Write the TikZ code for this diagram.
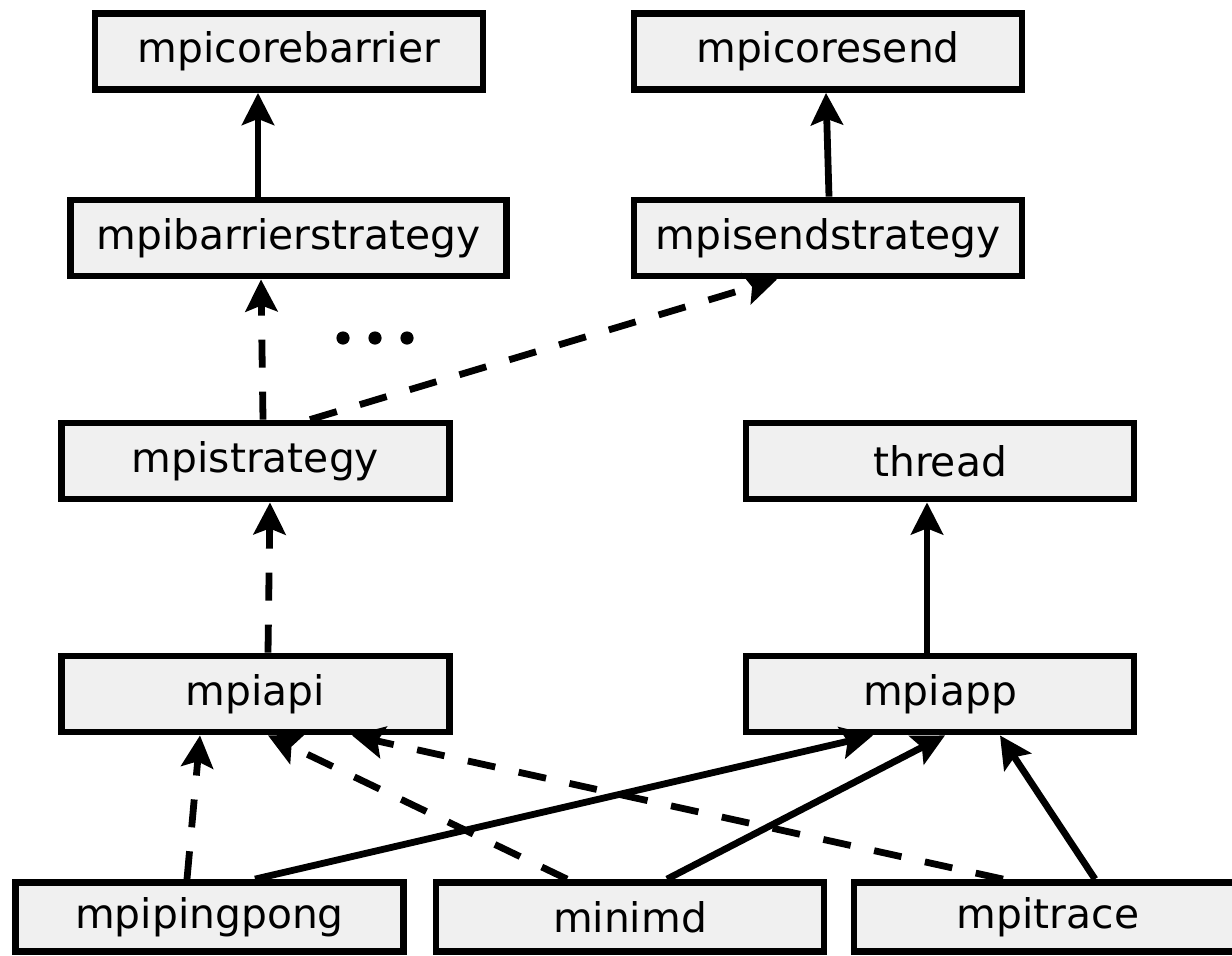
\documentclass[tikz,border=0pt]{standalone}
\usepackage{fontspec}
\setmainfont{DejaVu Sans}
\usetikzlibrary{arrows.meta,calc}
\definecolor{boxfill}{HTML}{F0F0F0}
\tikzset{
  box/.style={draw=black, fill=boxfill, line width=3.4pt, rectangle, inner sep=0pt,
    minimum width=194pt, minimum height=38pt,
    font=\fontsize{20.4}{24}\selectfont},
  link/.style={line width=3.4pt, -{Stealth[length=16pt,width=16pt,inset=3pt]}},
  dep/.style={link, dash pattern=on 14pt off 12pt},
  dot/.style={circle, fill=black, inner sep=0pt, minimum size=6.6pt}
}
\begin{document}
\begin{tikzpicture}[x=0.5pt,y=-0.5pt]
\useasboundingbox (0,0) rectangle (1232,955);

% top row
\node[box] (cb) at (289,51.5) {mpicorebarrier};
\node[box] (cs) at (828,51.5) {mpicoresend};
% strategies
\node[box, minimum width=218pt] (bs) at (288.5,238) {mpibarrierstrategy};
\node[box] (ss) at (828,238) {mpisendstrategy};
\node[box] (st) at (255.5,461) {mpistrategy};
\node[box] (th) at (940,461) {thread};
% middle row
\node[box] (ap) at (255.5,694) {mpiapi};
\node[box] (app) at (940,694) {mpiapp};
% applications
\node[box, minimum height=34.5pt] (pp) at (209.5,917) {mpipingpong};
\node[box, minimum height=34.5pt] (mm) at (630,917) {minimd};
\node[box, minimum height=34.5pt] (tr) at (1048,917) {mpitrace};

% ellipsis between the strategies
\node[dot] (d1) at (343,338) {};
\node[dot] (d2) at (375,338) {};
\node[dot] (d3) at (407,338) {};

% solid links
\draw[link] ($(bs.north)+(-30.5,0)$) -- ($(cb.south)+(-31,0)$);
\draw[link] ($(ss.north)+(1,0)$) -- ($(cs.south)+(-2,0)$);
\draw[link] ($(app.north)+(-13,0)$) -- ($(th.south)+(-13,0)$);
\draw[link] ($(pp.north)+(45.5,0)$) -- ($(app.south)+(-67,0)$);
\draw[link] ($(mm.north)+(37,0)$) -- ($(app.south)+(5,0)$);
\draw[link] ($(tr.north)+(47,0)$) -- ($(app.south)+(60,0)$);

% dashed links
\draw[dep] ($(st.north)+(7.5,0)$) -- ($(bs.south)+(-27.5,0)$);
\draw[dep] ($(st.north)+(54.5,0)$) -- ($(ss.south)+(-51,0)$);
\draw[dep] ($(ap.north)+(12.5,0)$) -- ($(st.south)+(14.5,0)$);
\draw[dep] ($(pp.north)+(-22.5,0)$) -- ($(ap.south)+(-55.5,0)$);
\draw[dep] ($(mm.north)+(-63,0)$) -- ($(ap.south)+(12.5,0)$);
\draw[dep] ($(tr.north)+(-45,0)$) -- ($(ap.south)+(96.5,0)$);
\end{tikzpicture}
\end{document}
